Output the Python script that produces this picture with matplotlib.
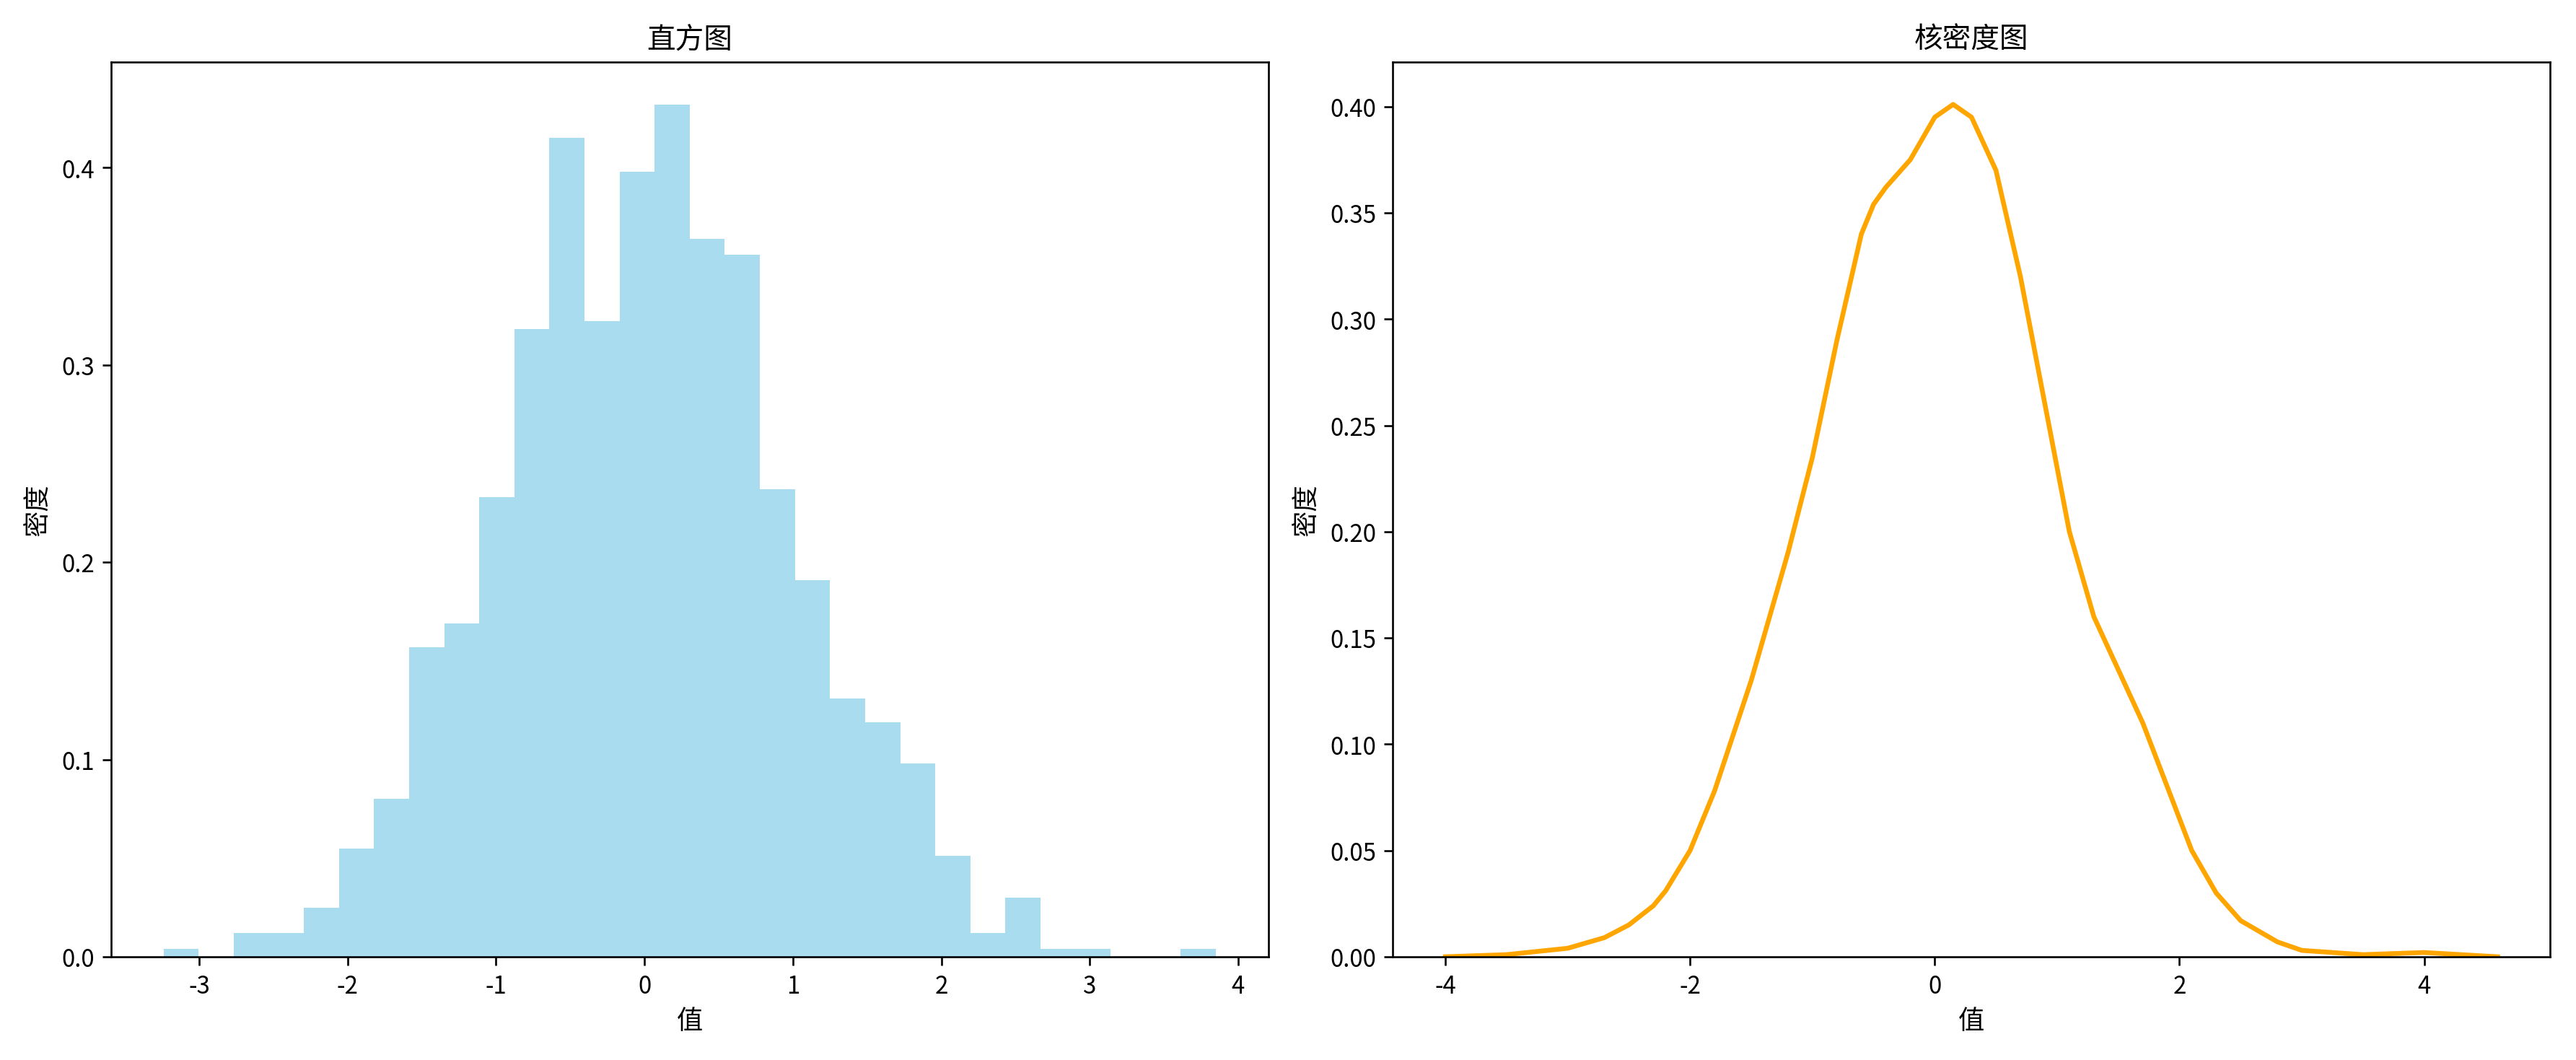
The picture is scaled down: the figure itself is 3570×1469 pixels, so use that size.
import numpy as np
import matplotlib
matplotlib.use("Agg")
import matplotlib.pyplot as plt

plt.rcParams['font.family'] = ['Noto Sans CJK SC', 'DejaVu Sans']
plt.rcParams['axes.unicode_minus'] = False

hist_start = -3.24
hist_end = 3.85
hist_heights = [0.004, 0, 0.012, 0.012, 0.025, 0.055, 0.080, 0.157, 0.169, 0.233,
                0.318, 0.415, 0.322, 0.398, 0.432, 0.364, 0.356, 0.237, 0.191, 0.131,
                0.119, 0.098, 0.051, 0.012, 0.030, 0.004, 0.004, 0, 0, 0.004]

kde_x = [-4.0, -3.5, -3.0, -2.7, -2.5, -2.3, -2.2, -2.0, -1.8, -1.5, -1.2, -1.0, -0.8, -0.6,
         -0.5, -0.4, -0.2, 0.0, 0.15, 0.3, 0.5, 0.7, 0.9, 1.1, 1.3, 1.5, 1.7, 1.9,
         2.1, 2.3, 2.5, 2.8, 3.0, 3.5, 4.0, 4.6]
kde_y = [0.0, 0.001, 0.004, 0.009, 0.015, 0.024, 0.031, 0.05, 0.078, 0.13, 0.19, 0.235, 0.29,
         0.34, 0.354, 0.362, 0.375, 0.395, 0.401, 0.395, 0.37, 0.32, 0.26, 0.2, 0.16,
         0.135, 0.11, 0.08, 0.05, 0.03, 0.017, 0.007, 0.003, 0.001, 0.002, 0.0]

fig, (ax1, ax2) = plt.subplots(1, 2, figsize=(15, 6.176), dpi=238)

edges = np.linspace(hist_start, hist_end, len(hist_heights) + 1)
ax1.hist(edges[:-1], bins=edges, weights=hist_heights, color='skyblue', alpha=0.7)
ax1.set_title('直方图', fontsize=12)
ax1.set_xlabel('值', fontsize=11)
ax1.set_ylabel('密度', fontsize=11)

ax2.plot(kde_x, kde_y, color='orange', linewidth=2)
ax2.set_ylim(0, None)
ax2.set_title('核密度图', fontsize=12)
ax2.set_xlabel('值', fontsize=11)
ax2.set_ylabel('密度', fontsize=11)

plt.tight_layout()
fig.savefig('out.png')
